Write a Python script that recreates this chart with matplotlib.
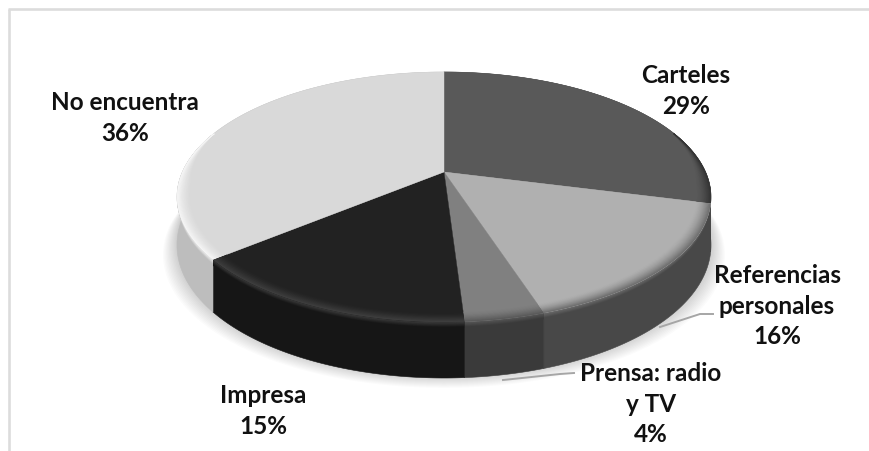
import numpy as np
import matplotlib
matplotlib.use("Agg")
import matplotlib.pyplot as plt
from matplotlib.patches import Polygon

labels = ["Carteles\n29%", "Referencias\npersonales\n16%", "Prensa: radio\ny TV\n4%", "Impresa\n15%", "No encuentra\n36%"]
values = [29, 16, 4, 15, 36]
top_colors = ["#595959", "#b0b0b0", "#808080", "#222222", "#d9d9d9"]
side_colors = ["#3c3c3c", "#484848", "#3a3a3a", "#161616", "#bdbdbd"]
rim_colors = ["#333333", "#6e6e6e", "#5a5a5a", "#3e3e3e", "#f6f6f6"]
label_xy = [(686, 91), (777, 306), (651, 404), (263, 411), (125, 118)]

plt.rcParams["font.family"] = ["Lato", "DejaVu Sans"]
fig = plt.figure(figsize=(8.69, 4.51), dpi=100)
ax = fig.add_axes([0, 0, 1, 1])
ax.set_xlim(0, 869)
ax.set_ylim(451, 0)
ax.axis("off")

CX, CY, A, P, K = 444.0, 172.0, 261.6, 120.0, 0.2


def proj(theta, r=1.0, depth=0.0):
    X, Y = r * np.sin(theta), -r * np.cos(theta)
    den = 1 - K * Y
    x = CX + A * X / den
    y = CY + P * Y / den
    d = depth * (46 + 10 * np.maximum(-np.cos(theta), 0))
    return x, y + d


# frame: left and top only
ax.plot([9, 9], [451, 9], color="#dcdcdc", lw=1.9, solid_capstyle="butt")
ax.plot([8, 869], [9, 9], color="#dcdcdc", lw=1.9, solid_capstyle="butt")

# soft shadow
th = np.linspace(0, 2 * np.pi, 361)
for off in np.linspace(14, 1, 12):
    x, y = proj(th, 1.0, 1.0)
    ax.add_patch(Polygon(np.c_[CX + (x - CX) * (1 + off / 267), y + off * 0.85 - 2],
                         closed=True, fc="#000000", ec="none", alpha=0.016, zorder=1))

fr = np.array(values, float) / sum(values)
edges = np.r_[0, np.cumsum(fr)] * 2 * np.pi
rgb = matplotlib.colors.to_rgb

for i, (a, b) in enumerate(zip(edges[:-1], edges[1:])):
    t = np.linspace(a, b, 240)
    xt, yt = proj(t)
    xb, yb = proj(t, 1.0, 1.0)
    c0, c1, c2 = np.array(rgb(top_colors[i])), np.array(rgb(rim_colors[i])), np.array(rgb(side_colors[i]))

    # side wall with a short gradient under the rim
    side = Polygon(np.r_[np.c_[xt, yt], np.c_[xb, yb][::-1]], closed=True,
                   fc=side_colors[i], ec=side_colors[i], lw=0.4, zorder=2)
    ax.add_patch(side)
    for u in np.linspace(0, 1, 10):
        d = u * 0.10
        x, y = proj(t, 1.0, d)
        vis = np.where(-np.cos(t) > -0.35, y, np.nan)
        line, = ax.plot(x, vis, color=c1 + (c2 - c1) * u, lw=1.0, zorder=2.5, solid_capstyle="butt")
        line.set_clip_path(side)

    # top face
    face = Polygon(np.r_[[[CX, CY]], np.c_[xt, yt]], closed=True,
                   fc=top_colors[i], ec=top_colors[i], lw=0.3, zorder=3)
    ax.add_patch(face)

    # bevel fades out toward the back of the pie
    Y = -np.cos(t)
    w = np.clip((Y + 0.35) / 0.45, 0, 1)
    for u in np.linspace(0, 1, 18):
        r = 1 - 0.05 * w * (1 - u)
        x, y = proj(t, r)
        y = np.where(w > 0, y, np.nan)
        line, = ax.plot(x, y, color=c0 + (c1 - c0) * u ** 1.5, lw=1.0, zorder=4, solid_capstyle="butt")
        line.set_clip_path(face)

# leader lines
ax.plot([660, 700, 713], [327, 314, 314], color="#a6a6a6", lw=1.4, zorder=5)
ax.plot([503, 560, 574], [380, 374, 373], color="#a6a6a6", lw=1.4, zorder=5)

for s, (x, y) in zip(labels, label_xy):
    ax.text(x, y, s, ha="center", va="center", fontsize=17.5, fontweight="bold",
            color="#111111", linespacing=1.42, zorder=6)

fig.savefig("out.png", dpi=100, facecolor="white")
